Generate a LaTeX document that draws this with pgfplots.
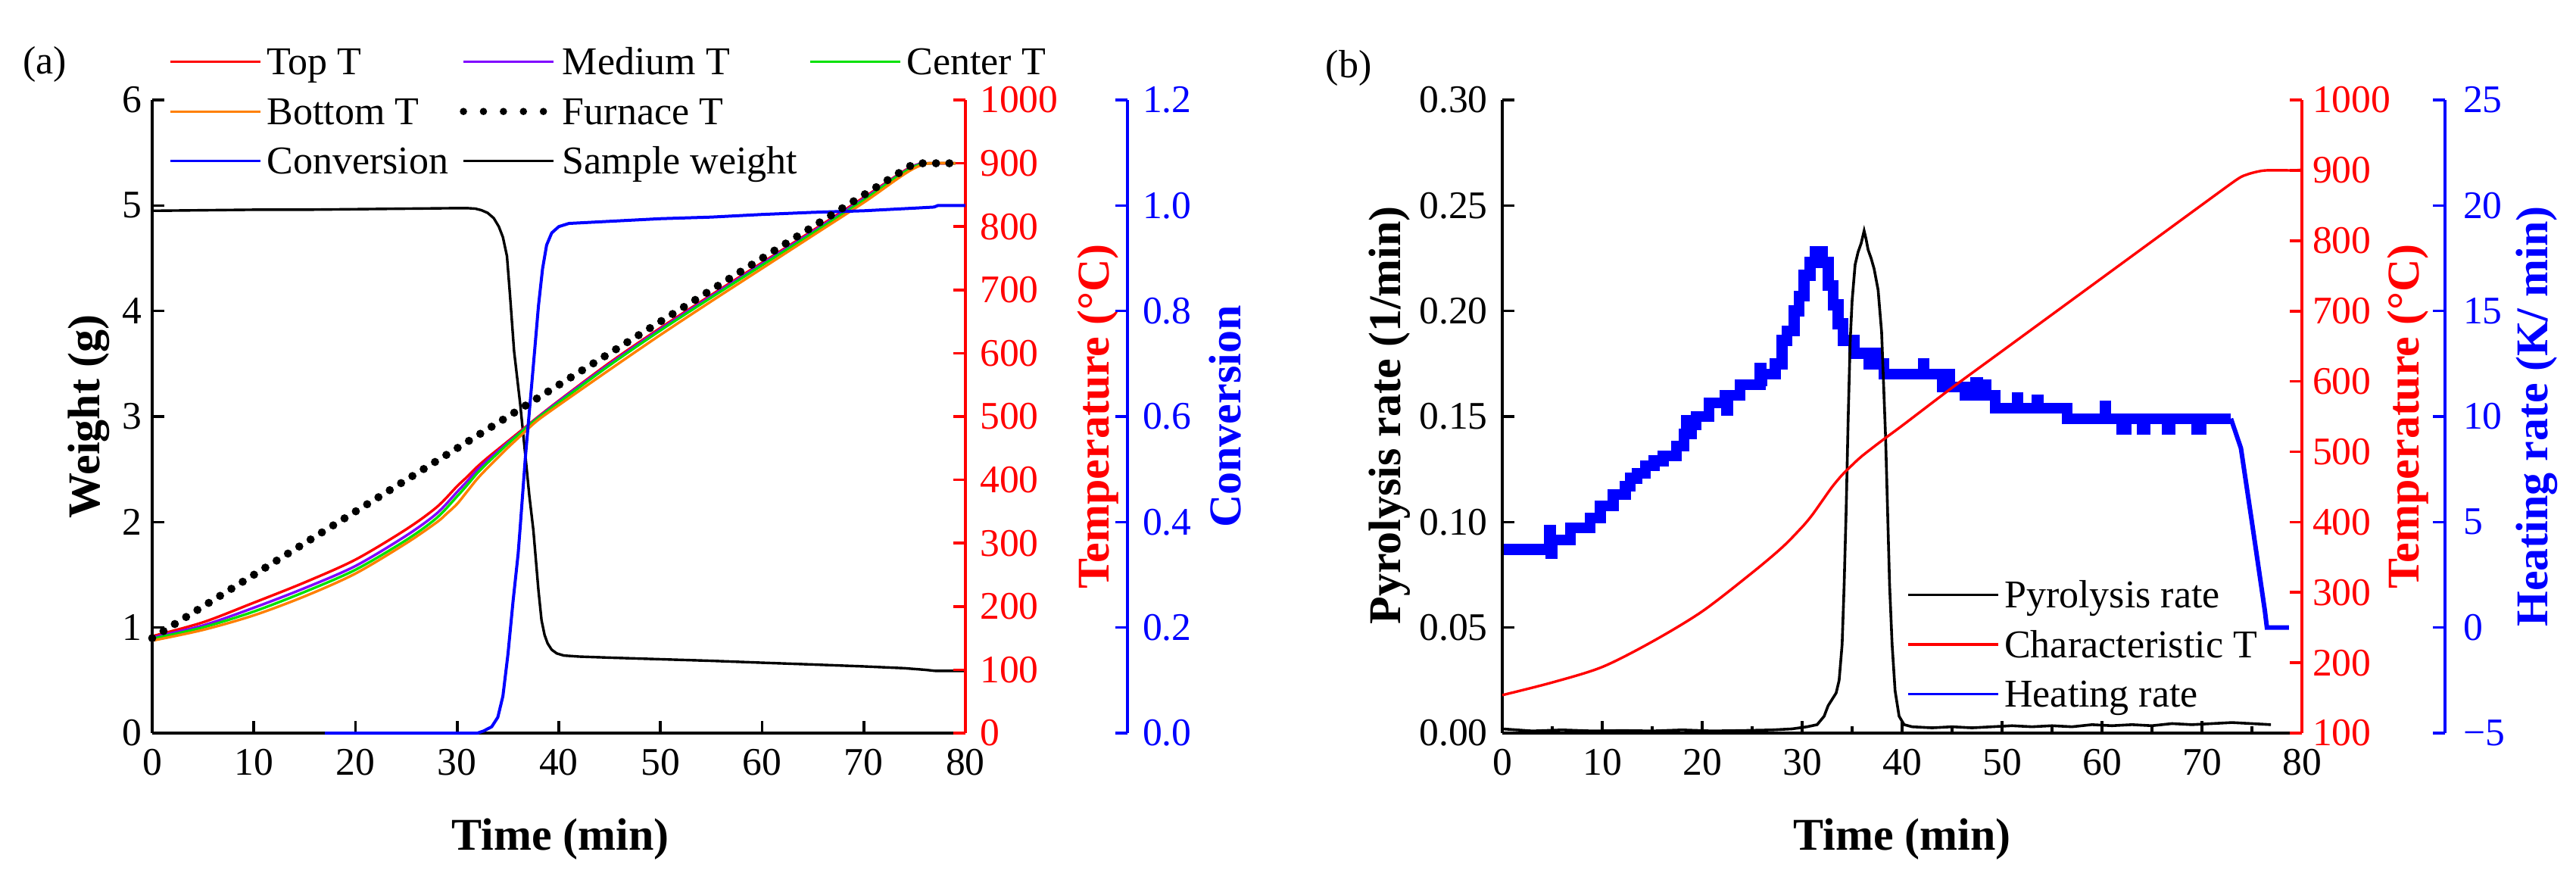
\documentclass[border=0pt]{standalone}
\usepackage{fontspec}
\setmainfont{Liberation Serif}
\usepackage{pgfplots}
\pgfplotsset{compat=1.18}
\definecolor{cPurple}{RGB}{128,0,255}
\definecolor{cGreen}{RGB}{0,225,0}
\definecolor{cOrange}{RGB}{255,128,0}
\pgfplotsset{
  common/.style={
    scale only axis, height=209pt,
    xmin=0, xmax=80,
    tick align=inside,
    major tick length=4pt, minor tick length=2.2pt,
    axis line style={line width=0.9pt,-},
    every tick/.append style={line width=0.9pt},
    tick label style={font=\fontsize{12.9}{14}\selectfont},
    label style={font=\fontsize{15}{18}\selectfont\bfseries},
    /pgf/number format/assume math mode=true,
    /pgf/number format/1000 sep={},
    scaled ticks=false,
    anchor=south west,
    clip=false,
  },
  leg/.style={
    legend image code/.code={\draw[##1] (0pt,0pt) -- (29.75pt,0pt);},
    legend cell align=left,
    legend style={draw=none, fill=none, inner sep=0pt,
      font=\fontsize{13}{15}\selectfont,
      nodes={text height=11pt, text depth=2.4pt, inner ysep=1.5pt, inner xsep=1.75pt},
      /tikz/every even column/.append style={column sep=2pt}},
  },
}
\begin{document}
\begin{tikzpicture}
\path[use as bounding box] (0,0) rectangle (850.5pt,290.25pt);
\node[font=\fontsize{13}{15}\selectfont] at (14.75pt,269pt) {(a)};
\node[font=\fontsize{13}{15}\selectfont] at (445.25pt,267.75pt) {(b)};

% ================= Panel (a) =================
\begin{axis}[common, width=268.5pt, at={(50.25pt,48.25pt)},
  axis x line*=bottom, axis y line*=left,
  ymin=0, ymax=6, ytick={0,1,2,3,4,5,6},
  xtick={0,10,...,80},
  xtick style={black}, ytick style={black},
  xticklabel style={yshift=-1.8pt},
  xlabel={Time (min)}, ylabel={Weight (g)},
  xlabel style={at={(axis description cs:0.502,-0.168)}, anchor=center},
  ylabel style={at={(axis description cs:-0.078,0.5)}, anchor=center},
]
\addplot[black, line width=0.85pt] coordinates {
(0,4.95) (5,4.955) (10,4.96) (15,4.96) (20,4.965) (25,4.97) (30,4.975) (31,4.975)
(31.8,4.97) (32.4,4.955) (33,4.93) (33.6,4.88) (34.1,4.8) (34.5,4.7) (34.9,4.52)
(35.2,4.15) (35.6,3.62) (36.2,3.12) (36.7,2.64) (37.1,2.25) (37.5,1.92) (38.0,1.35)
(38.3,1.07) (38.6,0.93) (38.9,0.85) (39.3,0.79) (39.8,0.755) (40.5,0.735) (42,0.725)
(45,0.715) (50,0.70) (55,0.685) (60,0.667) (65,0.65) (70,0.632) (74,0.615) (76,0.6)
(77,0.59) (80,0.59)};
\end{axis}

\begin{axis}[common, width=268.5pt, at={(50.25pt,48.25pt)},
  axis x line=none, axis y line*=right,
  ymin=0, ymax=1000, ytick={0,100,...,1000},
  y axis line style={red}, ytick style={red},
  yticklabel style={red, xshift=1.3pt},
  ylabel={Temperature (°C)},
  ylabel style={red, at={(axis description cs:1.163,0.5)}, anchor=center},
]
\addplot[red, line width=0.85pt, smooth] coordinates {
(0,153) (5,175) (10,206) (15,238) (20,274) (25,322) (28,357) (30,390) (31,405) (32,421)
(33,435) (34,448) (35,461) (36,474) (37,487) (38,500) (40,525) (45,585) (50,640)
(55,692) (60,743) (65,794) (70,846) (73,878) (74.5,893) (75.5,899) (76.5,900) (79,900)};
\addplot[cPurple, line width=0.85pt, smooth] coordinates {
(0,151) (5,170) (10,198) (15,229) (20,264) (25,312) (28,347) (30,381) (31,398) (32,416)
(33,431) (34,445) (35,459) (36,472) (37,486) (38,499) (40,524) (45,583) (50,638)
(55,690) (60,741) (65,792) (70,844) (73,877) (74.5,892) (75.5,899) (76.5,900) (79,900)};
\addplot[cGreen, line width=0.85pt, smooth] coordinates {
(0,149) (5,167) (10,192) (15,223) (20,258) (25,305) (28,340) (30,374) (31,392) (32,411)
(33,427) (34,442) (35,457) (36,471) (37,485) (38,498) (40,522) (45,581) (50,636)
(55,688) (60,739) (65,790) (70,842) (73,876) (74.5,891) (75.5,898) (76.5,900) (79,900)};
\addplot[cOrange, line width=0.85pt, smooth] coordinates {
(0,146) (5,163) (10,186) (15,216) (20,252) (25,300) (28,333) (29,347) (30,362) (31,382)
(32,402) (33,419) (34,435) (35,451) (36,466) (37,481) (38,495) (40,518) (45,574)
(50,629) (55,682) (60,734) (65,786) (70,838) (73,872) (74.5,888) (75.5,896) (76.5,900) (79,900)};
\end{axis}

\begin{axis}[common, width=268.5pt, at={(50.25pt,48.25pt)}, hide axis, ymin=0, ymax=1.2]
\addplot[blue, line width=1pt] coordinates {
(17,0) (32.0,0.0) (32.6,0.004) (33.4,0.012) (34.0,0.03) (34.5,0.07) (35.0,0.15) (35.5,0.25)
(36.0,0.34) (36.2,0.39) (36.7,0.52) (37.15,0.62) (37.6,0.72) (38.0,0.81) (38.4,0.88)
(38.8,0.925) (39.3,0.948) (40.0,0.96) (41.0,0.966) (45,0.97) (50,0.975) (55,0.978)
(60,0.983) (65,0.987) (70,0.99) (75,0.995) (76.9,0.997) (77.3,1.0) (80,1.0)};
\end{axis}

\begin{axis}[common, width=268.5pt, at={(103.75pt,48.25pt)},
  axis x line=none, axis y line*=right,
  ymin=0, ymax=1.2, ytick={0,0.2,0.4,0.6,0.8,1.0,1.2},
  yticklabels={0.0,0.2,0.4,0.6,0.8,1.0,1.2},
  y axis line style={blue}, ytick style={blue},
  yticklabel style={blue, xshift=1.5pt},
  ylabel={Conversion},
  ylabel style={blue, at={(axis description cs:1.120,0.5)}, anchor=center},
]
\end{axis}

\begin{axis}[common, leg, width=268.5pt, at={(50.25pt,48.25pt)}, hide axis, ymin=0, ymax=1000,
  legend columns=3,
  legend style={at={(axis description cs:0.02,1.1005)}, anchor=north west},
]
\addplot[black, line width=2.7pt, line cap=round, dash pattern=on 0pt off 4.4pt, forget plot]
  coordinates {(0,150) (75,900) (78.6,900)};
\addlegendimage{red, line width=0.8pt}\addlegendentry{Top T}
\addlegendimage{cPurple, line width=0.8pt}\addlegendentry{Medium T}
\addlegendimage{cGreen, line width=0.8pt}\addlegendentry{Center T}
\addlegendimage{cOrange, line width=0.8pt}\addlegendentry{Bottom T}
\addlegendimage{black, line width=2.4pt, line cap=round, dash pattern=on 0pt off 6.6pt}\addlegendentry{Furnace T}
\addlegendimage{empty legend}\addlegendentry{}
\addlegendimage{blue, line width=0.8pt}\addlegendentry{Conversion}
\addlegendimage{black, line width=0.8pt}\addlegendentry{Sample weight}
\end{axis}

% ================= Panel (b) =================
\begin{axis}[common, width=264pt, at={(496pt,48.25pt)}, hide axis, ymin=-5, ymax=25]
\addplot[blue, line width=3.6pt, const plot] coordinates {
(0,3.7) (4.6,3.7) (4.7,4.6) (4.85,3.5) (5.0,4.15) (6.8,4.73) (8.8,5.2) (9.8,5.76)
(11.1,6.3) (12.3,6.7) (12.8,7.07) (13.5,7.3) (14.3,7.66) (15.2,7.9) (16.1,8.14)
(17.4,8.6) (18.2,9.17) (18.4,9.8) (18.5,9.17) (18.9,9.6) (19.4,10.0) (20.7,10.65)
(22.3,11.0) (22.4,10.3) (22.55,11.0) (23.8,11.5) (25.7,11.5) (25.8,12.3) (25.9,11.7)
(26.0,12.0) (27.3,12.5) (28.0,13.6) (28.5,14.06) (29.2,15.0)
(29.7,15.7) (30.2,16.7) (30.8,17.3) (31.3,17.83) (32.0,17.3) (32.6,16.2) (33.1,15.3)
(33.6,14.4) (34.1,13.6) (35.2,13.0) (36.7,12.5) (37.3,13.0) (37.4,12.5) (38.2,12.0)
(42.0,12.0) (42.1,12.5) (42.2,12.0) (44.0,11.4) (44.6,12.0) (44.75,11.4) (46.3,11.0)
(47.4,11.6) (47.55,11.0) (48.3,11.5) (48.4,11.0) (49.3,10.4) (51.5,10.9) (51.6,10.4)
(53.5,10.8) (53.6,10.4) (56.5,9.9) (60.3,10.5) (60.4,9.9) (62,9.4) (62.4,9.9) (64,9.4)
(64.3,9.9) (66.5,9.4) (66.8,9.9) (69.5,9.4) (69.9,9.9) (72.9,9.9)};
\addplot[blue, line width=1.5pt] coordinates {
(72.9,9.9) (73.9,8.5) (75,5) (76.3,0.78) (76.5,0) (78.7,0)};
\end{axis}

\begin{axis}[common, width=264pt, at={(496pt,48.25pt)},
  axis x line*=bottom, axis y line*=left,
  ymin=0, ymax=0.3, ytick={0,0.05,0.1,0.15,0.2,0.25,0.3},
  yticklabels={0.00,0.05,0.10,0.15,0.20,0.25,0.30},
  xtick={0,10,...,80}, minor x tick num=1,
  xtick style={black}, ytick style={black},
  xticklabel style={yshift=-1.8pt},
  yticklabel style={xshift=-1.3pt},
  xlabel={Time (min)}, ylabel={Pyrolysis rate (1/min)},
  xlabel style={at={(axis description cs:0.5,-0.168)}, anchor=center},
  ylabel style={at={(axis description cs:-0.141,0.502)}, anchor=center},
]
\addplot[black, line width=0.9pt] coordinates {
(0,0.002) (3,0.001) (6,0.0015) (9,0.001) (12,0.0012) (15,0.001) (18,0.0015) (21,0.001)
(24,0.0012) (27,0.0015) (29,0.002) (30.5,0.003) (31.5,0.004) (32.2,0.008) (32.6,0.013)
(33,0.016) (33.4,0.019) (33.7,0.025) (34.0,0.042) (34.2,0.07) (34.4,0.105) (34.6,0.148)
(34.8,0.185) (35.0,0.205) (35.3,0.222) (35.6,0.228) (35.9,0.232) (36.2,0.238) (36.4,0.234)
(36.6,0.229) (36.9,0.225) (37.2,0.22) (37.6,0.21) (37.95,0.19) (38.15,0.165) (38.35,0.14)
(38.55,0.105) (38.75,0.07) (39.0,0.042) (39.3,0.02) (39.7,0.008) (40.2,0.004) (41,0.003)
(43,0.0025) (45,0.003) (47,0.0025) (49,0.003) (51,0.0035) (53,0.003) (55,0.0035) (57,0.003)
(59,0.004) (61,0.0035) (63,0.004) (65,0.0035) (67,0.0045) (69,0.004) (71,0.0045) (73,0.005)
(75,0.0045) (76.9,0.004)};
\end{axis}

\begin{axis}[common, leg, width=264pt, at={(496pt,48.25pt)},
  axis x line=none, axis y line*=right,
  ymin=100, ymax=1000, ytick={100,200,...,1000},
  y axis line style={red}, ytick style={red},
  yticklabel style={red},
  ylabel={Temperature (°C)},
  ylabel style={red, at={(axis description cs:1.1326,0.5)}, anchor=center},
  legend style={at={(axis description cs:0.505,0.14)}, anchor=west},
]
\addplot[red, line width=0.85pt, smooth, forget plot] coordinates {
(0,154) (5,172) (10,194) (15,230) (20,273) (25,328) (28,364) (30,393) (31,410) (32,430)
(33,450) (34,467) (35,481) (36,494) (38,516) (40,537) (45,591) (50,643) (55,695) (60,747)
(65,799) (70,851) (73.5,887) (74.5,894) (75.5,898) (76.5,900) (79.2,900) (80,901)};
\addlegendimage{black, line width=0.8pt}\addlegendentry{Pyrolysis rate}
\addlegendimage{red, line width=0.8pt}\addlegendentry{Characteristic T}
\addlegendimage{blue, line width=0.8pt}\addlegendentry{Heating rate}
\end{axis}

\begin{axis}[common, width=264pt, at={(543.25pt,48.25pt)},
  axis x line=none, axis y line*=right,
  ymin=-5, ymax=25, ytick={-5,0,5,10,15,20,25},
  yticklabels={−5,0,5,10,15,20,25},
  y axis line style={blue}, ytick style={blue},
  yticklabel style={blue, xshift=2.5pt},
  ylabel={Heating rate (K/ min)},
  ylabel style={blue, at={(axis description cs:1.1146,0.5)}, anchor=center},
]
\end{axis}
\end{tikzpicture}
\end{document}
